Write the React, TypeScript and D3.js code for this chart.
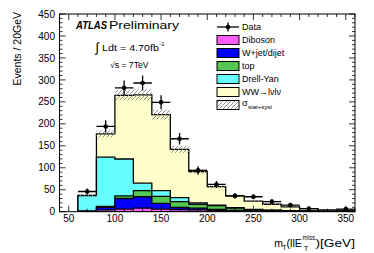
import React from "react";
import * as d3 from "d3";

// ---- data ----
const binLow = [60, 80, 100, 120, 140, 160, 180, 200, 220, 240, 260, 280, 300, 320, 340];
const binWidth = 20;
const diboson = [0.5, 4, 6, 8, 6, 5, 4, 3, 2, 1.5, 1, 0.8, 0.5, 0.3, 0.2];
const wjet = [0.5, 6, 24, 26, 13, 5, 4, 2, 1, 0.5, 0.5, 0.3, 0.2, 0.1, 0.1];
const topq = [0, 2, 6, 14, 16, 13, 9, 9, 5, 2, 1.5, 0.9, 0.8, 0.6, 0.7];
const drellYan = [35.5, 112, 84, 17, 13, 9, 3, 1, 1, 1, 0.5, 0.5, 0.5, 0.2, 0.1];
const ww = [0.5, 53, 145, 201, 173, 110, 71, 42, 27, 19, 13.5, 8.5, 5, 2.8, 1.9];
const dataCounts = [46, 194, 282, 293, 249, 166, 94, 62, 36, 34, 23, 15, 7, 0, 6];
const systErr = [3, 8, 12, 13, 11, 8, 5, 3.5, 2.5, 2, 1.5, 1, 0.8, 0.5, 0.4];

const xTicks = [50, 100, 150, 200, 250, 300, 350];
const yTicks = [0, 50, 100, 150, 200, 250, 300, 350, 400, 450];

const seriesNames = ["Diboson", "W+jet/dijet", "top", "Drell-Yan", "WW→lνlν"];
const seriesColors = ["#ff5cff", "#0000ff", "#52c852", "#66ffff", "#ffffcc"];
const seriesValues = [diboson, wjet, topq, drellYan, ww];

const FONT = "'Liberation Sans', Arial, Helvetica, sans-serif";

export default function App() {
  const W = 374, H = 253;
  const x0 = 59.5, x1 = 355, yTop = 14, yBot = 211.7;
  const x = d3.scaleLinear().domain([40, 360]).range([x0, x1]);
  const y = d3.scaleLinear().domain([0, 450]).range([yBot, yTop]);

  const rows = binLow.map((b, i) => {
    const r: any = { b };
    seriesNames.forEach((n, k) => (r[n] = seriesValues[k][i]));
    return r;
  });
  const stacked = d3.stack().keys(seriesNames)(rows);

  const stepPath = (vals: number[]) => {
    const pts: [number, number][] = [];
    pts.push([binLow[0], 0]);
    vals.forEach((v, i) => pts.push([binLow[i], v]));
    const lastEdge = binLow[binLow.length - 1] + binWidth;
    pts.push([lastEdge, vals[vals.length - 1]]);
    pts.push([lastEdge, 0]);
    const line = d3
      .line<[number, number]>()
      .x((d) => x(d[0]))
      .y((d) => y(d[1]))
      .curve(d3.curveStepAfter);
    return line(pts) + "Z";
  };

  const totals = stacked[stacked.length - 1].map((d) => d[1]);

  const layers = stacked
    .map((s, k) => ({ k, vals: s.map((d) => d[1]) }))
    .reverse();

  const minorX = d3.range(40, 361, 10);
  const minorY = d3.range(0, 451, 10);

  const legendX = 217, legendTextX = 242, legendY0 = 27, legendStep = 13;
  const legendEntries = [
    { label: "Diboson", color: seriesColors[0] },
    { label: "W+jet/dijet", color: seriesColors[1] },
    { label: "top", color: seriesColors[2] },
    { label: "Drell-Yan", color: seriesColors[3] },
    { label: "WW→lνlν", color: seriesColors[4] },
  ];

  return (
    <svg
      width={W}
      height={H}
      style={{ position: "absolute", left: 0, top: 0, background: "#fff" }}
      fontFamily={FONT}
    >
      <defs>
        <pattern id="hatch" patternUnits="userSpaceOnUse" width="4" height="4">
          <path d="M-1,1 l2,-2 M0,4 l4,-4 M3,5 l2,-2" stroke="#8a8a8a" strokeWidth="0.9" />
        </pattern>
        <clipPath id="plotClip">
          <rect x={x0} y={yTop} width={x1 - x0} height={yBot - yTop} />
        </clipPath>
      </defs>
      <rect x={0} y={0} width={W} height={H} fill="#fff" />

      <g clipPath="url(#plotClip)">
        {layers.map((l) => (
          <path
            key={l.k}
            d={stepPath(l.vals)}
            fill={seriesColors[l.k]}
            stroke="#000"
            strokeWidth={1.3}
          />
        ))}
        {binLow.map((b, i) => (
          <rect
            key={"h" + i}
            x={x(b)}
            width={x(b + binWidth) - x(b)}
            y={y(totals[i] + systErr[i])}
            height={y(totals[i] - systErr[i]) - y(totals[i] + systErr[i])}
            fill="url(#hatch)"
          />
        ))}
        {binLow.map((b, i) => {
          const v = dataCounts[i];
          if (v <= 0) return null;
          const cx = x(b + binWidth / 2);
          const e = Math.sqrt(v);
          return (
            <g key={"d" + i}>
              <line x1={x(b)} x2={x(b + binWidth)} y1={y(v)} y2={y(v)} stroke="#000" strokeWidth={1.3} />
              <line x1={cx} x2={cx} y1={y(v + e)} y2={y(Math.max(0, v - e))} stroke="#000" strokeWidth={1.3} />
              <circle cx={cx} cy={y(v)} r={2.3} fill="#000" />
            </g>
          );
        })}
      </g>

      <rect x={x0} y={yTop} width={x1 - x0} height={yBot - yTop} fill="none" stroke="#000" strokeWidth={1} />
      {minorX.map((v) => {
        const major = v % 50 === 0;
        const len = major ? 6 : 3;
        return (
          <g key={"tx" + v}>
            <line x1={x(v)} x2={x(v)} y1={yBot} y2={yBot - len} stroke="#000" strokeWidth={0.8} />
            <line x1={x(v)} x2={x(v)} y1={yTop} y2={yTop + len} stroke="#000" strokeWidth={0.8} />
          </g>
        );
      })}
      {minorY.map((v) => {
        const major = v % 50 === 0;
        const len = major ? 6 : 3;
        return (
          <g key={"ty" + v}>
            <line x1={x0} x2={x0 + len} y1={y(v)} y2={y(v)} stroke="#000" strokeWidth={0.8} />
            <line x1={x1} x2={x1 - len} y1={y(v)} y2={y(v)} stroke="#000" strokeWidth={0.8} />
          </g>
        );
      })}
      {xTicks.map((v) => (
        <text key={"lx" + v} x={x(v)} y={222} fontSize={10} textAnchor="middle" fill="#000">
          {v}
        </text>
      ))}
      {yTicks.map((v) => (
        <text key={"ly" + v} x={55} y={y(v) + 3.6} fontSize={10} textAnchor="end" fill="#000">
          {v}
        </text>
      ))}

      <text
        transform="translate(20.5,12) rotate(-90)"
        fontSize={10.5}
        textAnchor="end"
        fill="#000"
      >
        Events / 20GeV
      </text>
      <g fontSize={10.5} fill="#000">
        <text x={274.3} y={247}>m</text>
        <text x={282.3} y={250} fontSize={7}>T</text>
        <text x={286.5} y={247} textLength={15.5} lengthAdjust="spacingAndGlyphs">(llE</text>
        <text x={302.5} y={240} fontSize={7} textLength={12.5} lengthAdjust="spacingAndGlyphs">miss</text>
        <text x={304} y={251} fontSize={7}>T</text>
        <text x={315.5} y={247} textLength={39.5} lengthAdjust="spacingAndGlyphs">)[GeV]</text>
      </g>

      <text x={76} y={29} fontSize={10.5} fontWeight="bold" fontStyle="italic" textLength={31} lengthAdjust="spacingAndGlyphs">
        ATLAS
      </text>
      <text x={109} y={29} fontSize={10.5} textLength={70} lengthAdjust="spacingAndGlyphs">
        Preliminary
      </text>
      <text x={95.5} y={52} fontSize={13}>∫</text>
      <text x={102} y={51} fontSize={8.5} textLength={57} lengthAdjust="spacingAndGlyphs">
        Ldt = 4.70fb
      </text>
      <text x={159.2} y={46} fontSize={6}>-1</text>
      <text x={110} y={67.5} fontSize={8.5} textLength={38.5} lengthAdjust="spacingAndGlyphs">
        √s = 7TeV
      </text>

      <g>
        <line x1={legendX} x2={legendX + 22} y1={legendY0} y2={legendY0} stroke="#000" strokeWidth={1.3} />
        <line x1={legendX + 11} x2={legendX + 11} y1={legendY0 - 4.5} y2={legendY0 + 4.5} stroke="#000" strokeWidth={1.3} />
        <circle cx={legendX + 11} cy={legendY0} r={2.3} fill="#000" />
        <text x={legendTextX} y={legendY0 + 3.2} fontSize={9}>Data</text>
        {legendEntries.map((e, i) => {
          const cy = legendY0 + legendStep * (i + 1);
          return (
            <g key={e.label}>
              <rect x={legendX} y={cy - 4.5} width={22} height={9} fill={e.color} stroke="#000" strokeWidth={1} />
              <text x={legendTextX} y={cy + 3.2} fontSize={9}>{e.label}</text>
            </g>
          );
        })}
        {(() => {
          const cy = legendY0 + legendStep * 6;
          return (
            <g>
              <rect x={legendX} y={cy - 4.5} width={22} height={9} fill="url(#hatch)" stroke="#000" strokeWidth={1} />
              <text x={legendTextX} y={cy + 1} fontSize={9}>σ</text>
              <text x={legendTextX + 6} y={cy + 4} fontSize={6}>stat+syst</text>
            </g>
          );
        })()}
      </g>
    </svg>
  );
}
